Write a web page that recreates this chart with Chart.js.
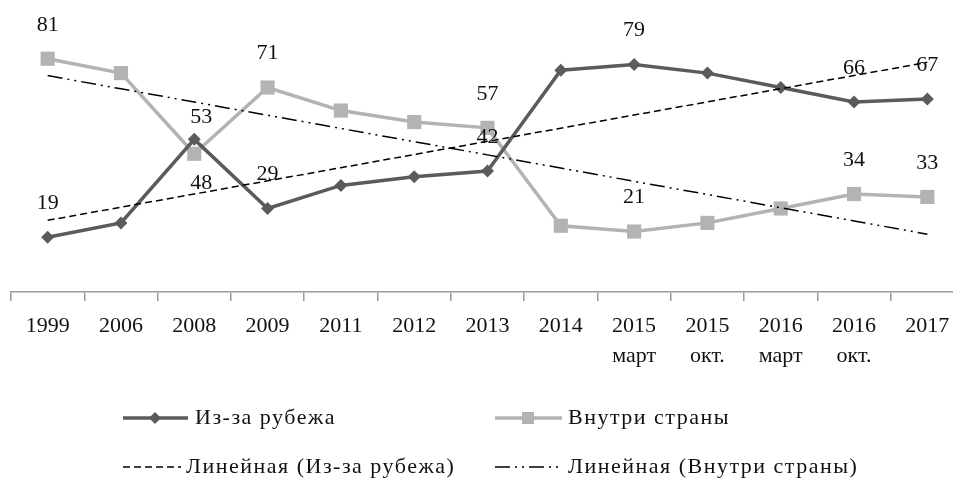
<!DOCTYPE html>
<html>
<head>
<meta charset="utf-8">
<script src="https://cdn.jsdelivr.net/npm/chart.js@4.4.1/dist/chart.umd.min.js"></script>
<style>
  html, body { margin: 0; padding: 0; background: #fff; overflow: hidden; }
  #wrap { position: relative; width: 966px; height: 479px; }
  canvas { display: block; }
</style>
</head>
<body>
<div id="wrap"><canvas id="c" width="966" height="479"></canvas></div>
<script>
// ---- data ----
const categories = ['1999', '2006', '2008', '2009', '2011', '2012', '2013', '2014',
  ['2015', 'март'], ['2015', 'окт.'], ['2016', 'март'], ['2016', 'окт.'], '2017'];
const abroad = [19, 24, 53, 29, 37, 40, 42, 77, 79, 76, 71, 66, 67];   // Из-за рубежа
const inside = [81, 76, 48, 71, 63, 59, 57, 23, 21, 24, 29, 34, 33];   // Внутри страны
const labeledPoints = [0, 2, 3, 6, 8, 11, 12];
const seriesNames = ['Из-за рубежа', 'Внутри страны'];
const trendNames = ['Линейная (Из-за рубежа)', 'Линейная (Внутри страны)'];

// linear least-squares trend of a series (x = 1..n)
function linearTrend(vals) {
  const n = vals.length;
  const xs = vals.map((_, i) => i + 1);
  const mx = xs.reduce((a, b) => a + b, 0) / n;
  const my = vals.reduce((a, b) => a + b, 0) / n;
  let sxy = 0, sxx = 0;
  for (let i = 0; i < n; i++) { sxy += (xs[i] - mx) * (vals[i] - my); sxx += (xs[i] - mx) ** 2; }
  const b = sxy / sxx, a = my - b * mx;
  return xs.map(x => a + b * x);
}

// ---- styles ----
const FONT = '"Liberation Serif", "Times New Roman", serif';
const DARK = '#5b5b5b';
const LIGHT = '#b3b3b3';
const DASH = [7, 4];
const DASHDOT = [15, 5, 2, 5, 2, 5];
// per-point label offsets (dataset index:point index -> [dx, dy])
const labelOffsetDefault = [0, -34];
const labelOffsetSpecial = { '0:2': [7, -22], '1:2': [7, 29] };

const dataLabelPlugin = {
  id: 'dataLabels',
  afterDatasetsDraw(chart) {
    const ctx = chart.ctx;
    ctx.save();
    ctx.font = '22px ' + FONT;
    ctx.fillStyle = '#111';
    ctx.textAlign = 'center';
    ctx.textBaseline = 'middle';
    [0, 1].forEach(di => {
      const meta = chart.getDatasetMeta(di);
      const vals = chart.data.datasets[di].data;
      labeledPoints.forEach(pi => {
        const el = meta.data[pi];
        const off = labelOffsetSpecial[di + ':' + pi] || labelOffsetDefault;
        ctx.fillText(String(vals[pi]), el.x + off[0], el.y + off[1]);
      });
    });
    ctx.restore();
  }
};

const legendPlugin = {
  id: 'gridLegend',
  afterDraw(chart) {
    const ctx = chart.ctx;
    ctx.save();
    ctx.font = '22px ' + FONT;
    try { ctx.letterSpacing = '1.5px'; } catch (e) {}
    ctx.fillStyle = '#111';
    ctx.textAlign = 'left';
    ctx.textBaseline = 'middle';
    const r1 = 418, r2 = 467;
    // row 1, col 1: dark line with diamond
    ctx.strokeStyle = DARK; ctx.lineWidth = 3.5; ctx.setLineDash([]);
    ctx.beginPath(); ctx.moveTo(123, r1); ctx.lineTo(188, r1); ctx.stroke();
    ctx.fillStyle = DARK;
    ctx.beginPath(); ctx.moveTo(155 - 6, r1); ctx.lineTo(155, r1 - 6); ctx.lineTo(155 + 6, r1); ctx.lineTo(155, r1 + 6); ctx.closePath(); ctx.fill();
    ctx.fillStyle = '#111';
    ctx.fillText(seriesNames[0], 195, r1);
    // row 1, col 2: light line with square
    ctx.strokeStyle = LIGHT;
    ctx.beginPath(); ctx.moveTo(495, r1); ctx.lineTo(562, r1); ctx.stroke();
    ctx.fillStyle = LIGHT; ctx.fillRect(522, r1 - 6, 12, 12);
    ctx.fillStyle = '#111';
    ctx.fillText(seriesNames[1], 568, r1);
    // row 2, col 1: dashed
    ctx.strokeStyle = '#000'; ctx.lineWidth = 1.5;
    ctx.setLineDash(DASH);
    ctx.beginPath(); ctx.moveTo(123, r2); ctx.lineTo(181, r2); ctx.stroke();
    ctx.fillText(trendNames[0], 186, r2);
    // row 2, col 2: dash-dot-dot
    ctx.setLineDash(DASHDOT);
    ctx.beginPath(); ctx.moveTo(495, r2); ctx.lineTo(560, r2); ctx.stroke();
    ctx.setLineDash([]);
    ctx.fillText(trendNames[1], 568, r2);
    ctx.restore();
  }
};

new Chart(document.getElementById('c'), {
  type: 'line',
  data: {
    labels: categories,
    datasets: [
      {
        label: seriesNames[0], data: abroad,
        borderColor: DARK, backgroundColor: DARK, borderWidth: 3.5,
        pointStyle: 'rectRot', pointRadius: 6.5, pointBorderWidth: 0,
        pointBackgroundColor: DARK, tension: 0, order: 2
      },
      {
        label: seriesNames[1], data: inside,
        borderColor: LIGHT, backgroundColor: LIGHT, borderWidth: 3.5,
        pointStyle: 'rect', pointRadius: 10, pointBorderWidth: 0,
        pointBackgroundColor: LIGHT, tension: 0, order: 3
      },
      {
        label: trendNames[0], data: linearTrend(abroad),
        borderColor: '#000', borderWidth: 1.5, borderDash: DASH,
        pointRadius: 0, tension: 0, order: 0
      },
      {
        label: trendNames[1], data: linearTrend(inside),
        borderColor: '#000', borderWidth: 1.5, borderDash: DASHDOT,
        pointRadius: 0, tension: 0, order: 1
      }
    ]
  },
  options: {
    responsive: false,
    maintainAspectRatio: false,
    animation: false,
    devicePixelRatio: 1,
    layout: { autoPadding: false, padding: { top: 4, left: 11, right: 2, bottom: 97 } },
    plugins: { legend: { display: false }, tooltip: { enabled: false } },
    scales: {
      x: {
        offset: true,
        afterFit(scale) { scale.height = 90; },
        grid: { display: true, offset: true, drawOnChartArea: false, drawTicks: true,
                tickLength: 9, color: '#9a9a9a', lineWidth: 1.5 },
        border: { display: true, color: '#9a9a9a', width: 1.5 },
        ticks: { color: '#111', padding: 10, maxRotation: 0, autoSkip: false,
                 font: { family: FONT, size: 22, lineHeight: 1.364 } }
      },
      y: { display: false, min: 0, max: 100 }
    }
  },
  plugins: [dataLabelPlugin, legendPlugin]
});
</script>
</body>
</html>
